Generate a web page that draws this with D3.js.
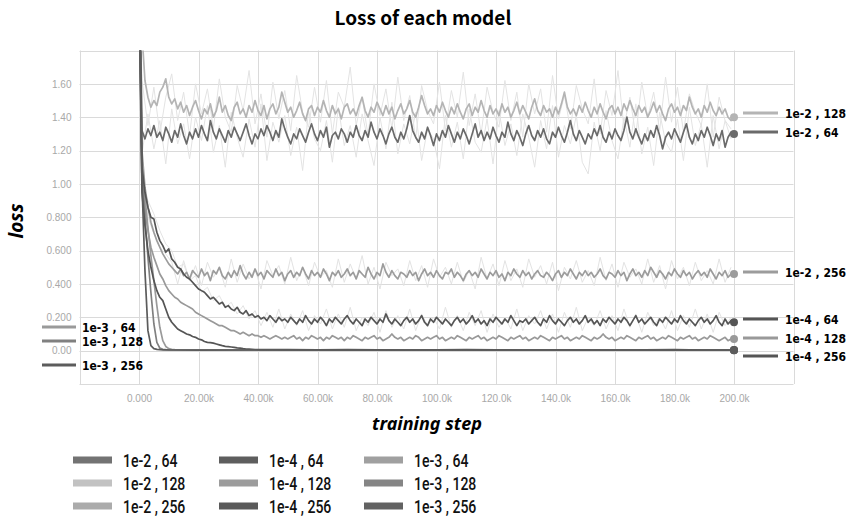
<!DOCTYPE html>
<html>
<head>
<meta charset="utf-8">
<script src="https://cdn.jsdelivr.net/npm/d3@7"></script>
<style>
  body { margin: 0; background: #fff; }
</style>
</head>
<body>
<div id="container"></div>
<script>
let w = 852;
let h = 516;

// x positions (training steps)
const steps = d3.range(0, 200001, 1000);          // smoothed curves, every 1k
const rawSteps = d3.range(1000, 200000, 2000);    // faint raw curves
const slowSteps = d3.range(0, 40001, 1000).concat(d3.range(50000, 200001, 10000));
const fastSteps = d3.range(0, 12001, 1000).concat(d3.range(20000, 200001, 20000));

// smoothed loss values
const lr2b128 = [2.60,1.90,1.62,1.52,1.46,1.50,1.47,1.55,1.58,1.63,
  1.52,1.48,1.51,1.45,1.49,1.43,1.47,1.41,1.46,1.50,
  1.44,1.39,1.45,1.42,1.48,1.40,1.44,1.52,1.43,1.47,
  1.41,1.38,1.46,1.49,1.42,1.45,1.40,1.47,1.43,1.50,
  1.44,1.41,1.47,1.39,1.45,1.48,1.42,1.46,1.55,1.49,
  1.43,1.46,1.40,1.44,1.49,1.42,1.38,1.45,1.47,1.41,
  1.46,1.43,1.50,1.44,1.40,1.47,1.42,1.45,1.39,1.46,
  1.48,1.42,1.45,1.41,1.47,1.52,1.44,1.40,1.46,1.43,
  1.49,1.45,1.41,1.47,1.42,1.46,1.39,1.44,1.48,1.42,
  1.45,1.50,1.43,1.40,1.46,1.53,1.47,1.42,1.45,1.41,
  1.47,1.43,1.49,1.44,1.40,1.46,1.42,1.48,1.43,1.39,
  1.45,1.48,1.41,1.46,1.43,1.50,1.44,1.40,1.47,1.42,
  1.45,1.41,1.48,1.43,1.46,1.40,1.44,1.49,1.42,1.47,
  1.43,1.39,1.46,1.51,1.44,1.41,1.47,1.43,1.45,1.40,
  1.46,1.42,1.48,1.55,1.46,1.42,1.45,1.41,1.47,1.43,
  1.49,1.44,1.40,1.46,1.42,1.48,1.43,1.39,1.45,1.47,
  1.42,1.46,1.41,1.48,1.44,1.50,1.45,1.41,1.47,1.43,
  1.46,1.40,1.44,1.49,1.43,1.47,1.42,1.38,1.45,1.48,
  1.43,1.46,1.41,1.47,1.44,1.52,1.46,1.42,1.45,1.40,
  1.47,1.43,1.49,1.44,1.41,1.46,1.42,1.45,1.40,1.38,
  1.40];

const lr2b64 = [2.60,1.32,1.27,1.33,1.29,1.35,1.28,1.31,1.26,1.34,
  1.30,1.25,1.32,1.28,1.36,1.29,1.24,1.31,1.27,1.33,
  1.28,1.35,1.30,1.26,1.38,1.31,1.27,1.33,1.29,1.25,
  1.32,1.28,1.34,1.30,1.26,1.31,1.36,1.29,1.24,1.30,
  1.27,1.33,1.29,1.35,1.31,1.26,1.32,1.28,1.39,1.33,
  1.28,1.24,1.30,1.27,1.33,1.29,1.25,1.31,1.36,1.30,
  1.26,1.32,1.28,1.34,1.22,1.29,1.31,1.27,1.33,1.30,
  1.25,1.31,1.28,1.35,1.29,1.26,1.32,1.28,1.37,1.31,
  1.27,1.33,1.29,1.24,1.30,1.34,1.28,1.25,1.31,1.27,
  1.33,1.41,1.32,1.28,1.25,1.31,1.27,1.34,1.29,1.23,
  1.30,1.26,1.32,1.28,1.35,1.30,1.25,1.31,1.27,1.33,
  1.29,1.24,1.30,1.36,1.28,1.32,1.26,1.31,1.27,1.34,
  1.29,1.25,1.31,1.28,1.37,1.30,1.26,1.32,1.28,1.23,
  1.30,1.35,1.29,1.26,1.32,1.28,1.33,1.27,1.24,1.31,
  1.28,1.34,1.29,1.25,1.31,1.38,1.30,1.26,1.32,1.28,
  1.24,1.30,1.27,1.33,1.29,1.35,1.28,1.25,1.31,1.27,
  1.33,1.29,1.26,1.32,1.40,1.31,1.27,1.33,1.28,1.24,
  1.30,1.26,1.32,1.28,1.35,1.29,1.21,1.28,1.31,1.27,
  1.33,1.29,1.25,1.31,1.36,1.28,1.24,1.30,1.26,1.32,
  1.28,1.34,1.29,1.23,1.30,1.26,1.32,1.22,1.28,1.31,
  1.30];

const lr2b256 = [2.50,1.20,0.98,0.86,0.77,0.71,0.66,0.62,0.58,0.55,
  0.52,0.50,0.48,0.46,0.49,0.45,0.47,0.43,0.48,0.46,
  0.44,0.49,0.45,0.47,0.42,0.48,0.46,0.50,0.45,0.43,
  0.47,0.44,0.48,0.45,0.51,0.46,0.43,0.47,0.44,0.49,
  0.45,0.47,0.43,0.48,0.46,0.44,0.49,0.45,0.47,0.42,
  0.46,0.48,0.44,0.47,0.45,0.50,0.46,0.43,0.48,0.45,
  0.47,0.44,0.49,0.46,0.42,0.47,0.45,0.48,0.44,0.46,
  0.49,0.45,0.47,0.43,0.48,0.46,0.44,0.50,0.46,0.43,
  0.47,0.45,0.52,0.47,0.44,0.48,0.45,0.43,0.47,0.46,
  0.44,0.48,0.45,0.47,0.42,0.46,0.49,0.45,0.47,0.44,
  0.48,0.45,0.43,0.47,0.46,0.49,0.44,0.47,0.45,0.42,
  0.46,0.48,0.45,0.47,0.44,0.49,0.46,0.43,0.47,0.45,
  0.48,0.44,0.46,0.42,0.47,0.45,0.49,0.46,0.44,0.48,
  0.45,0.47,0.43,0.46,0.48,0.45,0.44,0.47,0.45,0.42,
  0.46,0.48,0.44,0.47,0.45,0.49,0.46,0.43,0.47,0.45,
  0.48,0.45,0.47,0.44,0.46,0.49,0.45,0.43,0.47,0.46,
  0.44,0.48,0.45,0.47,0.42,0.46,0.49,0.45,0.47,0.44,
  0.48,0.45,0.50,0.47,0.44,0.48,0.46,0.43,0.47,0.45,
  0.49,0.46,0.44,0.48,0.45,0.47,0.43,0.46,0.48,0.45,
  0.47,0.44,0.49,0.46,0.43,0.47,0.45,0.48,0.44,0.46,
  0.46];

const lr4b64 = [2.40,1.10,0.95,0.86,0.80,0.79,0.71,0.66,0.63,0.59,
  0.61,0.55,0.53,0.50,0.49,0.46,0.44,0.43,0.41,0.39,
  0.37,0.36,0.35,0.33,0.31,0.32,0.30,0.28,0.29,0.26,
  0.27,0.25,0.24,0.26,0.23,0.22,0.24,0.21,0.22,0.20,
  0.21,0.19,0.20,0.18,0.21,0.19,0.17,0.20,0.18,0.19,
  0.17,0.20,0.18,0.16,0.19,0.17,0.21,0.18,0.16,0.19,
  0.17,0.20,0.18,0.15,0.19,0.17,0.20,0.18,0.16,0.19,
  0.21,0.18,0.16,0.19,0.17,0.15,0.19,0.17,0.20,0.18,
  0.16,0.19,0.17,0.22,0.18,0.16,0.19,0.17,0.15,0.18,
  0.20,0.17,0.19,0.16,0.18,0.21,0.17,0.15,0.19,0.17,
  0.20,0.18,0.16,0.19,0.17,0.15,0.18,0.20,0.17,0.19,
  0.16,0.18,0.21,0.17,0.19,0.16,0.18,0.15,0.19,0.17,
  0.20,0.18,0.16,0.19,0.17,0.21,0.18,0.15,0.18,0.17,
  0.19,0.16,0.18,0.20,0.17,0.15,0.19,0.17,0.21,0.18,
  0.16,0.19,0.17,0.15,0.18,0.20,0.17,0.19,0.16,0.18,
  0.21,0.17,0.19,0.16,0.18,0.15,0.19,0.17,0.20,0.18,
  0.16,0.19,0.17,0.20,0.18,0.15,0.18,0.21,0.17,0.19,
  0.16,0.18,0.20,0.17,0.15,0.19,0.17,0.20,0.18,0.16,
  0.19,0.17,0.21,0.18,0.16,0.19,0.17,0.15,0.18,0.20,
  0.17,0.19,0.16,0.18,0.21,0.17,0.15,0.19,0.16,0.18,
  0.17];

const lr4b128 = [2.30,1.00,0.85,0.72,0.62,0.56,0.51,0.46,0.43,0.39,
  0.36,0.34,0.32,0.31,0.29,0.28,0.27,0.26,0.25,0.23,
  0.22,0.21,0.20,0.19,0.18,0.17,0.16,0.15,0.15,0.14,
  0.13,0.12,0.12,0.11,0.10,0.11,0.10,0.09,0.10,0.09,
  0.09,0.08,0.09,0.08,0.07,0.08,0.09,0.08,0.07,0.08,
  0.07,0.08,0.09,0.07,0.08,0.06,0.08,0.07,0.09,0.08,
  0.07,0.08,0.06,0.08,0.07,0.09,0.08,0.07,0.08,0.06,
  0.08,0.07,0.09,0.08,0.07,0.06,0.08,0.07,0.08,0.09,
  0.07,0.08,0.06,0.07,0.08,0.10,0.08,0.07,0.08,0.06,
  0.07,0.08,0.07,0.09,0.08,0.06,0.07,0.08,0.07,0.08,
  0.09,0.07,0.08,0.06,0.07,0.08,0.07,0.09,0.08,0.07,
  0.06,0.08,0.07,0.08,0.09,0.07,0.08,0.06,0.07,0.08,
  0.07,0.09,0.08,0.07,0.06,0.08,0.07,0.08,0.09,0.07,
  0.08,0.06,0.07,0.08,0.07,0.09,0.08,0.07,0.06,0.08,
  0.07,0.08,0.09,0.07,0.08,0.06,0.07,0.08,0.07,0.09,
  0.08,0.07,0.06,0.08,0.07,0.08,0.10,0.08,0.07,0.08,
  0.06,0.07,0.08,0.07,0.09,0.08,0.07,0.06,0.08,0.07,
  0.08,0.09,0.07,0.08,0.06,0.07,0.08,0.07,0.09,0.08,
  0.07,0.06,0.08,0.07,0.08,0.09,0.07,0.08,0.06,0.07,
  0.08,0.07,0.09,0.08,0.07,0.06,0.07,0.08,0.06,0.07,
  0.07];

const lr4b256 = [2.20,0.95,0.75,0.60,0.50,0.42,0.36,0.32,0.30,0.25,
  0.20,0.17,0.15,0.13,0.12,0.11,0.10,0.095,0.085,0.08,
  0.07,0.065,0.055,0.05,0.048,0.045,0.04,0.035,0.03,0.026,
  0.024,0.022,0.02,0.017,0.015,0.012,0.01,0.009,0.008,0.007,
  0.006,
  0.006,0.005,0.006,0.005,0.004,0.005,0.006,0.005,0.004,0.005,0.005,0.004,0.005,0.006,0.004,0.004];

const lr3b64 = [2.30,1.15,0.92,0.74,0.57,0.42,0.27,0.14,0.06,0.025,0.012,0.008,0.006,
  0.005,0.005,0.004,0.005,0.004,0.004,0.004,0.004,0.004,0.004];
const lr3b128 = [2.30,1.08,0.80,0.56,0.35,0.16,0.05,0.015,0.008,0.006,0.005,0.005,0.004,
  0.004,0.004,0.004,0.003,0.004,0.003,0.004,0.003,0.003,0.003];
const lr3b256 = [2.30,1.00,0.48,0.12,0.03,0.012,0.008,0.006,0.005,0.005,0.004,0.004,0.004,
  0.003,0.004,0.003,0.003,0.004,0.003,0.003,0.003,0.003,0.003];

// faint un-smoothed values behind the noisy curves
const raw2b128 = [1.62,1.35,1.58,1.30,1.52,1.66,1.38,1.55,1.29,1.60,
  1.42,1.57,1.33,1.63,1.40,1.31,1.59,1.44,1.68,1.36,
  1.54,1.28,1.61,1.39,1.56,1.32,1.65,1.43,1.34,1.58,
  1.37,1.62,1.30,1.55,1.46,1.70,1.35,1.52,1.29,1.60,
  1.41,1.57,1.33,1.64,1.38,1.53,1.27,1.59,1.44,1.36,
  1.61,1.32,1.56,1.40,1.67,1.35,1.54,1.30,1.58,1.43,
  1.34,1.62,1.38,1.55,1.28,1.60,1.42,1.57,1.31,1.65,
  1.39,1.53,1.33,1.59,1.45,1.36,1.63,1.30,1.56,1.41,
  1.68,1.34,1.52,1.29,1.61,1.40,1.55,1.32,1.64,1.37,
  1.58,1.31,1.54,1.43,1.35,1.60,1.28,1.52,1.38,1.33];
const raw2b64 = [1.18,1.42,1.21,1.38,1.12,1.45,1.24,1.36,1.15,1.40,
  1.26,1.47,1.19,1.35,1.10,1.43,1.28,1.16,1.39,1.22,
  1.48,1.14,1.37,1.25,1.41,1.17,1.34,1.08,1.44,1.27,
  1.20,1.38,1.13,1.46,1.23,1.35,1.16,1.42,1.26,1.11,
  1.40,1.21,1.49,1.18,1.36,1.24,1.43,1.14,1.33,1.27,
  1.09,1.41,1.22,1.37,1.15,1.45,1.25,1.19,1.39,1.12,
  1.44,1.23,1.36,1.17,1.42,1.28,1.10,1.38,1.21,1.47,
  1.16,1.35,1.24,1.41,1.13,1.06,1.37,1.20,1.44,1.26,
  1.15,1.40,1.22,1.48,1.18,1.34,1.11,1.43,1.25,1.19,
  1.39,1.14,1.46,1.23,1.36,1.10,1.41,1.21,1.38,1.27];
const raw2b256 = [1.05,0.80,0.70,0.62,0.58,0.53,0.40,0.54,0.42,0.51,
  0.39,0.53,0.44,0.50,0.38,0.55,0.41,0.52,0.43,0.49,
  0.37,0.54,0.45,0.51,0.40,0.56,0.42,0.50,0.39,0.53,
  0.44,0.48,0.38,0.55,0.41,0.52,0.43,0.57,0.40,0.50,
  0.37,0.53,0.45,0.49,0.39,0.54,0.42,0.51,0.38,0.55,
  0.44,0.50,0.40,0.53,0.41,0.48,0.37,0.56,0.43,0.52,
  0.39,0.54,0.42,0.49,0.38,0.55,0.44,0.51,0.40,0.53,
  0.36,0.50,0.43,0.54,0.41,0.48,0.39,0.56,0.42,0.52,
  0.38,0.53,0.44,0.49,0.40,0.55,0.41,0.51,0.37,0.54,
  0.43,0.50,0.39,0.53,0.42,0.48,0.40,0.55,0.41,0.50];
const raw4b64 = [1.00,0.90,0.82,0.72,0.64,0.60,0.50,0.52,0.42,0.45,
  0.35,0.38,0.30,0.33,0.26,0.29,0.22,0.27,0.19,0.24,
  0.15,0.23,0.14,0.25,0.13,0.22,0.15,0.24,0.12,0.21,
  0.16,0.25,0.13,0.22,0.14,0.26,0.12,0.20,0.15,0.23,
  0.11,0.24,0.14,0.21,0.13,0.25,0.12,0.22,0.15,0.20,
  0.13,0.26,0.14,0.21,0.12,0.23,0.15,0.24,0.11,0.22,
  0.14,0.20,0.13,0.25,0.12,0.21,0.16,0.24,0.13,0.22,
  0.11,0.23,0.14,0.26,0.12,0.20,0.15,0.24,0.13,0.21,
  0.12,0.25,0.14,0.22,0.11,0.23,0.15,0.20,0.13,0.24,
  0.12,0.21,0.14,0.25,0.13,0.22,0.11,0.23,0.15,0.20];

const yTicks = [0, 0.2, 0.4, 0.6, 0.8, 1.0, 1.2, 1.4, 1.6];
const xTicks = [0, 20000, 40000, 60000, 80000, 100000, 120000, 140000, 160000, 180000, 200000];

// series: name, values, steps, colour
let series = [
  {name: "1e-2 , 64",  values: lr2b64,  steps: steps,     color: "#6a6a6a", swatch: "#737373"},
  {name: "1e-2 , 128", values: lr2b128, steps: steps,     color: "#b4b4b4", swatch: "#c2c2c2"},
  {name: "1e-2 , 256", values: lr2b256, steps: steps,     color: "#9c9c9c", swatch: "#ababab"},
  {name: "1e-4 , 64",  values: lr4b64,  steps: steps,     color: "#555555", swatch: "#5e5e5e"},
  {name: "1e-4 , 128", values: lr4b128, steps: steps,     color: "#999999", swatch: "#9c9c9c"},
  {name: "1e-4 , 256", values: lr4b256, steps: slowSteps, color: "#555555", swatch: "#5a5a5a"},
  {name: "1e-3 , 64",  values: lr3b64,  steps: fastSteps, color: "#9a9a9a", swatch: "#a0a0a0"},
  {name: "1e-3 , 128", values: lr3b128, steps: fastSteps, color: "#808080", swatch: "#858585"},
  {name: "1e-3 , 256", values: lr3b256, steps: fastSteps, color: "#5c5c5c", swatch: "#626262"}
];
let rawSeries = [raw2b128, raw2b64, raw2b256, raw4b64];

let viz = d3.select("#container")
  .append("svg")
    .attr("width", w)
    .attr("height", h)
    .style("background-color", "white")
    .style("display", "block");

let xScale = d3.scaleLinear().domain([-20000, 220000]).range([79.5, 793.5]);
let yScale = d3.scaleLinear().domain([-0.2, 1.8]).range([384, 50.5]);

// grid
let grid = viz.append("g").attr("class", "grid");
grid.selectAll(".hgrid").data(d3.range(-0.2, 1.81, 0.2)).enter()
  .append("line")
    .attr("x1", xScale(-20000)).attr("x2", xScale(220000))
    .attr("y1", d => Math.round(yScale(d)) + 0.5).attr("y2", d => Math.round(yScale(d)) + 0.5)
    .attr("stroke", "#dadada");
grid.selectAll(".vgrid").data(d3.range(-20000, 220001, 20000)).enter()
  .append("line")
    .attr("y1", yScale(1.8)).attr("y2", yScale(-0.2))
    .attr("x1", d => Math.round(xScale(d)) + 0.5).attr("x2", d => Math.round(xScale(d)) + 0.5)
    .attr("stroke", "#dadada");

// axes (labels only)
let yAxis = d3.axisLeft(yScale).tickValues(yTicks).tickFormat(d3.format(".3r")).tickSize(0).tickPadding(8);
let yAxisGroup = viz.append("g").attr("class", "yaxis")
  .attr("transform", "translate(" + xScale(-20000) + ",0)")
  .call(yAxis);
let xAxis = d3.axisBottom(xScale).tickValues(xTicks).tickFormat(d3.format(".4s")).tickSize(0).tickPadding(11);
let xAxisGroup = viz.append("g").attr("class", "xaxis")
  .attr("transform", "translate(0," + yScale(-0.2) + ")")
  .call(xAxis);
[yAxisGroup, xAxisGroup].forEach(g => {
  g.select(".domain").remove();
  g.selectAll("text")
    .attr("fill", "#a8a8a8")
    .style("font-family", "'Liberation Sans', sans-serif")
    .style("font-stretch", "condensed")
    .style("font-size", "10px");
});

// clip lines to plot area
viz.append("clipPath").attr("id", "plotclip")
  .append("rect")
    .attr("x", xScale(-20000)).attr("y", yScale(1.8))
    .attr("width", xScale(220000) - xScale(-20000))
    .attr("height", yScale(-0.2) - yScale(1.8));

let plot = viz.append("g").attr("clip-path", "url(#plotclip)");

// raw faint curves
rawSeries.forEach(vals => {
  let pts = vals.map((v, i) => [rawSteps[i], v]);
  plot.append("path")
    .datum([[0, 2.4]].concat(pts))
    .attr("fill", "none")
    .attr("stroke", "#e3e3e3")
    .attr("stroke-width", 1)
    .attr("d", d3.line().x(d => xScale(d[0])).y(d => yScale(d[1])));
});

let line = d3.line().x(d => xScale(d[0])).y(d => yScale(d[1]));

// draw in an order so darker curves sit on top of lighter ones
let drawOrder = [1, 2, 6, 4, 7, 0, 3, 5, 8];
drawOrder.forEach(k => {
  let s = series[k];
  let pts = s.values.map((v, i) => [s.steps[i], v]);
  plot.append("path")
    .datum(pts)
    .attr("fill", "none")
    .attr("stroke", s.color)
    .attr("stroke-width", 1.7)
    .attr("stroke-linejoin", "round")
    .attr("d", line);
  let last = pts[pts.length - 1];
  plot.append("circle")
    .attr("cx", xScale(last[0]))
    .attr("cy", yScale(last[1]))
    .attr("r", 4)
    .attr("fill", s.color);
});

// labels beside the curves
const rightLabels = [[1, 113], [0, 132], [2, 272], [3, 319], [4, 338], [5, 356]];
const leftLabels = [[6, 327], [7, 341], [8, 365]];
let ann = viz.append("g").attr("class", "annotations")
  .style("font-family", "'DejaVu Sans Condensed', 'DejaVu Sans', sans-serif")
  .style("font-stretch", "condensed")
  .style("font-weight", "bold")
  .style("font-size", "12px");
rightLabels.forEach(([k, y]) => {
  ann.append("line").attr("x1", 743).attr("x2", 778).attr("y1", y).attr("y2", y)
    .attr("stroke", series[k].color).attr("stroke-width", 3);
  ann.append("text").attr("x", 785).attr("y", y + 4.5).text(series[k].name);
});
leftLabels.forEach(([k, y]) => {
  ann.append("line").attr("x1", 42).attr("x2", 76).attr("y1", y).attr("y2", y)
    .attr("stroke", series[k].color).attr("stroke-width", 3);
  ann.append("text").attr("x", 82).attr("y", y + 4.5).text(series[k].name);
});

// titles
viz.append("text")
  .attr("x", 423).attr("y", 25)
  .attr("text-anchor", "middle")
  .style("font-family", "'Noto Sans CJK KR', 'Noto Sans', sans-serif")
  .style("font-weight", "bold")
  .style("font-size", "19px")
  .text("Loss of each model");

viz.append("text")
  .attr("transform", "translate(23,221) rotate(-90)")
  .attr("text-anchor", "middle")
  .style("font-family", "'Noto Sans', sans-serif")
  .style("font-weight", "bold")
  .style("font-style", "italic")
  .style("font-size", "19px")
  .text("loss");

viz.append("text")
  .attr("x", 427).attr("y", 430)
  .attr("text-anchor", "middle")
  .style("font-family", "'Noto Sans', sans-serif")
  .style("font-weight", "bold")
  .style("font-style", "italic")
  .style("font-size", "18px")
  .text("training step");

// legend, three columns of three
const legendCols = [73, 219, 364];
const legendRows = [460, 483, 506];
let legend = viz.append("g").attr("class", "legend");
series.forEach((s, i) => {
  let col = Math.floor(i / 3), row = i % 3;
  let g = legend.append("g")
    .attr("transform", "translate(" + legendCols[col] + "," + legendRows[row] + ")");
  g.append("rect").attr("x", 0).attr("y", -3.5).attr("width", 39).attr("height", 7).attr("fill", s.swatch);
  g.append("text")
    .attr("transform", "translate(50,6.5) scale(0.74,1)")
    .style("font-family", "Roboto, 'Liberation Sans', sans-serif")
    .style("font-weight", "500")
    .style("font-size", "19px")
    .attr("fill", "#111")
    .text(s.name);
});
</script>
</body>
</html>
